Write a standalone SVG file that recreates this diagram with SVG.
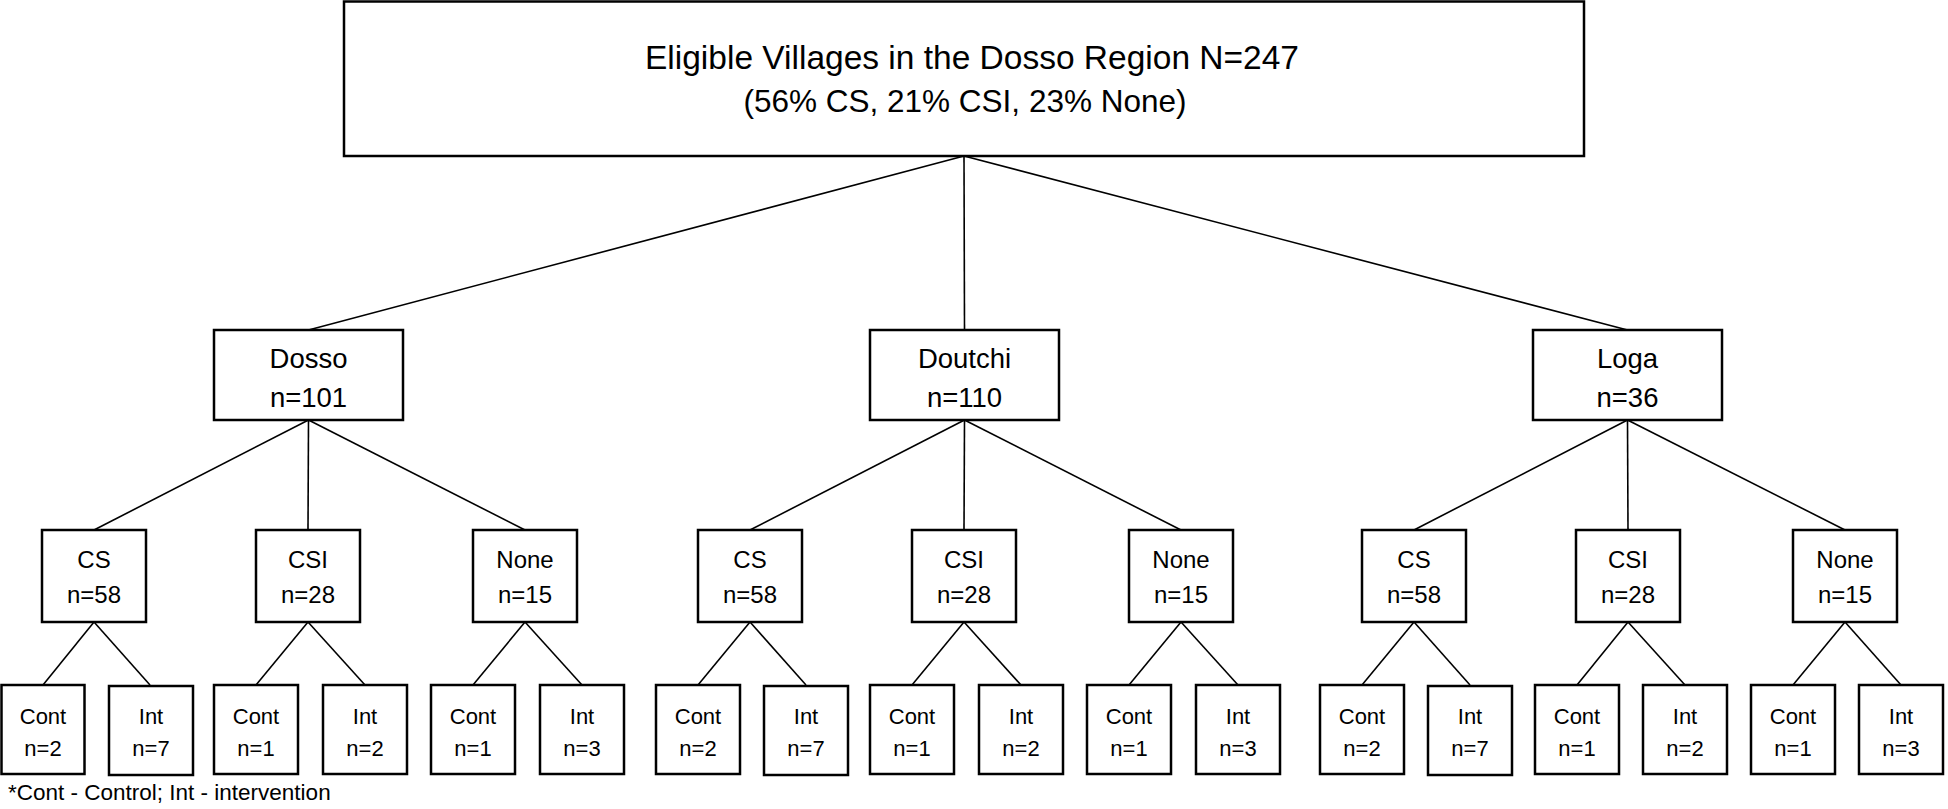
<svg xmlns="http://www.w3.org/2000/svg" width="1948" height="809" viewBox="0 0 1948 809">
<style>
.box{fill:#fff;stroke:#000;stroke-width:2.5}
.ln{stroke:#000;stroke-width:1.6;fill:none}
text{font-family:"Liberation Sans",Arial,sans-serif;fill:#000;text-anchor:middle}
.t0{font-size:33.5px}
.t0b{font-size:31.5px}
.t1{font-size:27.5px}
.t2{font-size:24px}
.t3{font-size:22px}
.fn{font-size:22.5px;text-anchor:start}
</style>
<rect width="1948" height="809" fill="#fff"/>
<g id="connectors">
<line class="ln" x1="964" y1="156" x2="308.5" y2="330"/>
<line class="ln" x1="964" y1="156" x2="964.5" y2="330"/>
<line class="ln" x1="964" y1="156" x2="1627.5" y2="330"/>
<line class="ln" x1="308.5" y1="420" x2="94" y2="530"/>
<line class="ln" x1="308.5" y1="420" x2="308" y2="530"/>
<line class="ln" x1="308.5" y1="420" x2="525" y2="530"/>
<line class="ln" x1="964.5" y1="420" x2="750" y2="530"/>
<line class="ln" x1="964.5" y1="420" x2="964" y2="530"/>
<line class="ln" x1="964.5" y1="420" x2="1181" y2="530"/>
<line class="ln" x1="1627.5" y1="420" x2="1414" y2="530"/>
<line class="ln" x1="1627.5" y1="420" x2="1628" y2="530"/>
<line class="ln" x1="1627.5" y1="420" x2="1845" y2="530"/>
<line class="ln" x1="94" y1="622" x2="43" y2="685"/>
<line class="ln" x1="94" y1="622" x2="150" y2="685"/>
<line class="ln" x1="308" y1="622" x2="256" y2="685"/>
<line class="ln" x1="308" y1="622" x2="365" y2="685"/>
<line class="ln" x1="525" y1="622" x2="473" y2="685"/>
<line class="ln" x1="525" y1="622" x2="582" y2="685"/>
<line class="ln" x1="750" y1="622" x2="698" y2="685"/>
<line class="ln" x1="750" y1="622" x2="806" y2="685"/>
<line class="ln" x1="964" y1="622" x2="912" y2="685"/>
<line class="ln" x1="964" y1="622" x2="1021" y2="685"/>
<line class="ln" x1="1181" y1="622" x2="1129" y2="685"/>
<line class="ln" x1="1181" y1="622" x2="1238" y2="685"/>
<line class="ln" x1="1414" y1="622" x2="1362" y2="685"/>
<line class="ln" x1="1414" y1="622" x2="1470" y2="685"/>
<line class="ln" x1="1628" y1="622" x2="1577" y2="685"/>
<line class="ln" x1="1628" y1="622" x2="1685" y2="685"/>
<line class="ln" x1="1845" y1="622" x2="1793" y2="685"/>
<line class="ln" x1="1845" y1="622" x2="1901" y2="685"/>
</g>
<g id="root">
<rect class="box" x="344" y="1.5" width="1240" height="154.5"/>
<text class="t0" x="972" y="69">Eligible Villages in the Dosso Region N=247</text>
<text class="t0b" x="965" y="112">(56% CS, 21% CSI, 23% None)</text>
</g>
<g id="dosso">
<rect class="box" x="214" y="330" width="189" height="90"/>
<text class="t1" x="308.5" y="368">Dosso</text>
<text class="t1" x="308.5" y="407">n=101</text>
</g>
<g id="doutchi">
<rect class="box" x="870" y="330" width="189" height="90"/>
<text class="t1" x="964.5" y="368">Doutchi</text>
<text class="t1" x="964.5" y="407">n=110</text>
</g>
<g id="loga">
<rect class="box" x="1533" y="330" width="189" height="90"/>
<text class="t1" x="1627.5" y="368">Loga</text>
<text class="t1" x="1627.5" y="407">n=36</text>
</g>
<g id="dosso-cs"><rect class="box" x="42" y="530" width="104" height="92"/><text class="t2" x="94" y="568">CS</text><text class="t2" x="94" y="603">n=58</text></g>
<g id="dosso-csi"><rect class="box" x="256" y="530" width="104" height="92"/><text class="t2" x="308" y="568">CSI</text><text class="t2" x="308" y="603">n=28</text></g>
<g id="dosso-none"><rect class="box" x="473" y="530" width="104" height="92"/><text class="t2" x="525" y="568">None</text><text class="t2" x="525" y="603">n=15</text></g>
<g id="doutchi-cs"><rect class="box" x="698" y="530" width="104" height="92"/><text class="t2" x="750" y="568">CS</text><text class="t2" x="750" y="603">n=58</text></g>
<g id="doutchi-csi"><rect class="box" x="912" y="530" width="104" height="92"/><text class="t2" x="964" y="568">CSI</text><text class="t2" x="964" y="603">n=28</text></g>
<g id="doutchi-none"><rect class="box" x="1129" y="530" width="104" height="92"/><text class="t2" x="1181" y="568">None</text><text class="t2" x="1181" y="603">n=15</text></g>
<g id="loga-cs"><rect class="box" x="1362" y="530" width="104" height="92"/><text class="t2" x="1414" y="568">CS</text><text class="t2" x="1414" y="603">n=58</text></g>
<g id="loga-csi"><rect class="box" x="1576" y="530" width="104" height="92"/><text class="t2" x="1628" y="568">CSI</text><text class="t2" x="1628" y="603">n=28</text></g>
<g id="loga-none"><rect class="box" x="1793" y="530" width="104" height="92"/><text class="t2" x="1845" y="568">None</text><text class="t2" x="1845" y="603">n=15</text></g>
<g id="dosso-cs-cont"><rect class="box" x="1.5" y="685" width="83" height="89"/><text class="t3" x="43" y="724">Cont</text><text class="t3" x="43" y="756">n=2</text></g>
<g id="dosso-cs-int"><rect class="box" x="109" y="686" width="84" height="89"/><text class="t3" x="151" y="724">Int</text><text class="t3" x="151" y="756">n=7</text></g>
<g id="dosso-csi-cont"><rect class="box" x="214" y="685" width="84" height="89"/><text class="t3" x="256" y="724">Cont</text><text class="t3" x="256" y="756">n=1</text></g>
<g id="dosso-csi-int"><rect class="box" x="323" y="685" width="84" height="89"/><text class="t3" x="365" y="724">Int</text><text class="t3" x="365" y="756">n=2</text></g>
<g id="dosso-none-cont"><rect class="box" x="431" y="685" width="84" height="89"/><text class="t3" x="473" y="724">Cont</text><text class="t3" x="473" y="756">n=1</text></g>
<g id="dosso-none-int"><rect class="box" x="540" y="685" width="84" height="89"/><text class="t3" x="582" y="724">Int</text><text class="t3" x="582" y="756">n=3</text></g>
<g id="doutchi-cs-cont"><rect class="box" x="656" y="685" width="84" height="89"/><text class="t3" x="698" y="724">Cont</text><text class="t3" x="698" y="756">n=2</text></g>
<g id="doutchi-cs-int"><rect class="box" x="764" y="686" width="84" height="89"/><text class="t3" x="806" y="724">Int</text><text class="t3" x="806" y="756">n=7</text></g>
<g id="doutchi-csi-cont"><rect class="box" x="870" y="685" width="84" height="89"/><text class="t3" x="912" y="724">Cont</text><text class="t3" x="912" y="756">n=1</text></g>
<g id="doutchi-csi-int"><rect class="box" x="979" y="685" width="84" height="89"/><text class="t3" x="1021" y="724">Int</text><text class="t3" x="1021" y="756">n=2</text></g>
<g id="doutchi-none-cont"><rect class="box" x="1087" y="685" width="84" height="89"/><text class="t3" x="1129" y="724">Cont</text><text class="t3" x="1129" y="756">n=1</text></g>
<g id="doutchi-none-int"><rect class="box" x="1196" y="685" width="84" height="89"/><text class="t3" x="1238" y="724">Int</text><text class="t3" x="1238" y="756">n=3</text></g>
<g id="loga-cs-cont"><rect class="box" x="1320" y="685" width="84" height="89"/><text class="t3" x="1362" y="724">Cont</text><text class="t3" x="1362" y="756">n=2</text></g>
<g id="loga-cs-int"><rect class="box" x="1428" y="686" width="84" height="89"/><text class="t3" x="1470" y="724">Int</text><text class="t3" x="1470" y="756">n=7</text></g>
<g id="loga-csi-cont"><rect class="box" x="1535" y="685" width="84" height="89"/><text class="t3" x="1577" y="724">Cont</text><text class="t3" x="1577" y="756">n=1</text></g>
<g id="loga-csi-int"><rect class="box" x="1643" y="685" width="84" height="89"/><text class="t3" x="1685" y="724">Int</text><text class="t3" x="1685" y="756">n=2</text></g>
<g id="loga-none-cont"><rect class="box" x="1751" y="685" width="84" height="89"/><text class="t3" x="1793" y="724">Cont</text><text class="t3" x="1793" y="756">n=1</text></g>
<g id="loga-none-int"><rect class="box" x="1859" y="685" width="84" height="89"/><text class="t3" x="1901" y="724">Int</text><text class="t3" x="1901" y="756">n=3</text></g>
<g id="footnote"><text class="fn" x="8" y="800">*Cont - Control; Int - intervention</text></g>
</svg>
